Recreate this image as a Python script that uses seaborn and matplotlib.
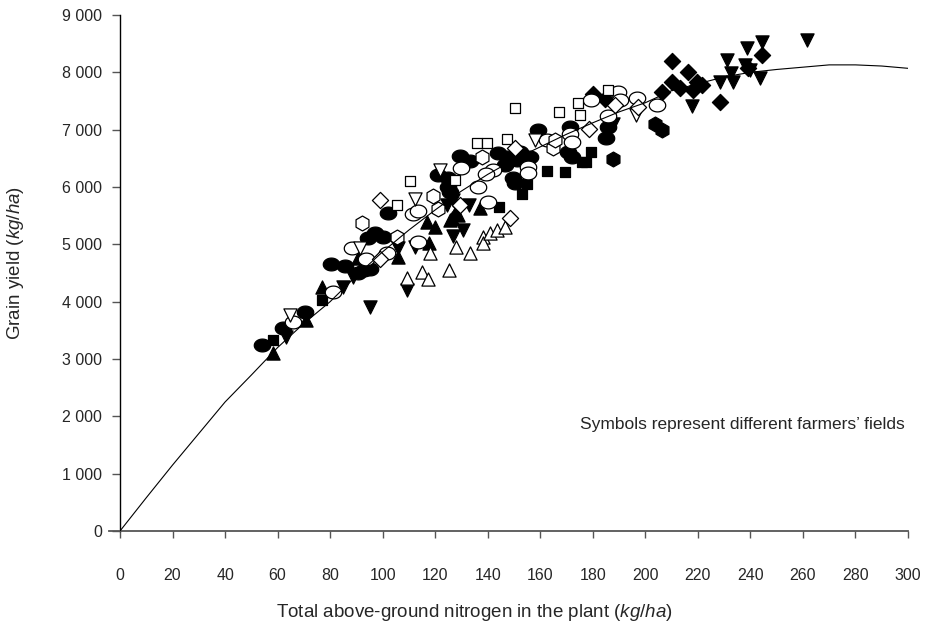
import numpy as np
import pandas as pd
import matplotlib
matplotlib.use("Agg")
import matplotlib.pyplot as plt
from matplotlib.path import Path
from matplotlib.ticker import FuncFormatter, MultipleLocator
import seaborn as sns

# ---------------- data ----------------
curve_x = [0, 10, 20, 30, 40, 50, 60, 70, 80, 90, 100, 110, 120, 130, 140, 150,
           160, 170, 180, 190, 200, 210, 220, 230, 240, 250, 260, 270, 280, 290, 300]
curve_y = [0, 580, 1150, 1700, 2250, 2720, 3200, 3620, 4000, 4450, 4870, 5250, 5600,
           5930, 6220, 6480, 6700, 6920, 7120, 7310, 7470, 7680, 7800, 7920, 8000,
           8050, 8090, 8130, 8130, 8110, 8070]

filled_circle_x = [53.9, 62.2, 70.4, 80.5, 85.6, 90.5, 92.8, 95.2, 94.5, 97, 100, 102,
                   121.2, 125, 125, 125.6, 129.4, 133.2, 144, 147.2, 146.6, 152.3, 156,
                   151, 149.7, 150.4, 159, 171.3, 170.7, 172, 185.9, 185.2]
filled_circle_y = [3245, 3536, 3825, 4650, 4620, 4500, 4550, 4570, 5110, 5190, 5130, 5541,
                   6210, 6152, 6006, 5919, 6540, 6460, 6588, 6515, 6384, 6610, 6520,
                   6471, 6152, 6064, 6990, 7040, 6617, 6529, 7053, 6850]

filled_square_x = [58.4, 76.8, 152.9, 154.8, 144.4, 162.4, 169.4, 175.7, 177.5, 179.5]
filled_square_y = [3332, 4030, 5878, 6050, 5650, 6280, 6268, 6442, 6430, 6617]

filled_tri_up_x = [58.4, 71, 76.8, 90.7, 106, 116.7, 119.9, 117.7, 126.3, 127.5, 137,
                   125.6, 128.8]
filled_tri_up_y = [3100, 3680, 4262, 4770, 4785, 5396, 5309, 5018, 5454, 5541, 5629,
                   5425, 5512]

filled_tri_down_x = [63.2, 85, 88.8, 95.2, 106, 109.1, 112.3, 126.6, 126.9, 130.7, 133,
                     124.4, 187.8, 217.6, 231, 238.6, 244.3, 261.4, 232.8, 228.4, 237.9,
                     239.8, 243.6, 233.5]
filled_tri_down_y = [3390, 4262, 4437, 3913, 4931, 4204, 4960, 5140, 5774, 5251, 5690,
                     5687, 7100, 7420, 8216, 8420, 8535, 8565, 7983, 7837, 8128,
                     8041, 7896, 7837]

filled_diamond_x = [180.2, 184.6, 210, 216.3, 219.5, 210, 213.2, 218.2, 206.2, 228.4,
                    239.2, 244.3, 221.4]
filled_diamond_y = [7620, 7540, 8200, 8011, 7837, 7837, 7721, 7692, 7663, 7480,
                    8070, 8303, 7780]

filled_hex_x = [203.7, 206.2, 187.5]
filled_hex_y = [7100, 6995, 6480]

open_circle_x = [66, 81.2, 88.2, 93.6, 101.5, 113.6, 111.5, 113.5, 130, 142, 139.5,
                 136.4, 140.2, 155.4, 155.4, 162.4, 171.5, 172, 185.9, 189.7, 190.3,
                 196.7, 204.3, 179.5]
open_circle_y = [3650, 4175, 4931, 4740, 4844, 5040, 5530, 5580, 6326, 6297, 6220,
                 6006, 5745, 6355, 6250, 6820, 6930, 6791, 7239, 7663, 7518,
                 7547, 7430, 7520]

open_square_x = [105.3, 110.4, 127.5, 136, 139.6, 147.2, 150.4, 167, 174.5, 175.1, 185.9]
open_square_y = [5680, 6110, 6122, 6762, 6762, 6832, 7370, 7313, 7460, 7256, 7700]

open_tri_up_x = [109.1, 114.8, 117.4, 118, 125.3, 127.8, 133.2, 138.3, 138.3, 140.8,
                 143.4, 146.6]
open_tri_up_y = [4420, 4524, 4400, 4850, 4553, 4960, 4844, 5135, 5018, 5193,
                 5251, 5309]

open_tri_down_x = [64.7, 91.4, 112.3, 121.8, 158, 196.4]
open_tri_down_y = [3767, 4931, 5786, 6297, 6820, 7256]

open_diamond_x = [99, 99, 129.4, 148.5, 150.4, 178.7, 188.4, 197.3]
open_diamond_y = [5774, 4750, 5687, 5454, 6675, 7006, 7430, 7400]

open_hex_x = [92, 105.3, 119.2, 121.2, 137.7, 165, 165.6]
open_hex_y = [5367, 5135, 5850, 5611, 6529, 6675, 6820]

note_text = "Symbols represent different farmers\u2019 fields"

# ---------------- style ----------------
sns.set_theme(style="white")
plt.rcParams["font.family"] = ["Liberation Sans", "DejaVu Sans"]
plt.rcParams["mathtext.fontset"] = "custom"
plt.rcParams["mathtext.rm"] = "Liberation Sans"
plt.rcParams["mathtext.it"] = "Liberation Sans:italic"

fig = plt.figure(figsize=(9.32, 6.27), dpi=100)
ax = fig.add_axes([120 / 932, 96 / 627, 788 / 932, 516 / 627])

# ellipse marker (wider than tall)
t = np.linspace(0, 2 * np.pi, 60)
ellipse = Path(np.column_stack([np.cos(t), 0.78 * np.sin(t)]), closed=True)

groups = [
    (filled_circle_x, filled_circle_y, ellipse, "black", 140),
    (filled_square_x, filled_square_y, "s", "black", 58),
    (filled_tri_up_x, filled_tri_up_y, "^", "black", 90),
    (filled_tri_down_x, filled_tri_down_y, "v", "black", 90),
    (filled_diamond_x, filled_diamond_y, "D", "black", 68),
    (filled_hex_x, filled_hex_y, "h", "black", 115),
    (open_circle_x, open_circle_y, ellipse, "white", 140),
    (open_square_x, open_square_y, "s", "white", 58),
    (open_tri_up_x, open_tri_up_y, "^", "white", 90),
    (open_tri_down_x, open_tri_down_y, "v", "white", 90),
    (open_diamond_x, open_diamond_y, "D", "white", 68),
    (open_hex_x, open_hex_y, "h", "white", 115),
]

for gx, gy, mk, fc, size in groups:
    df = pd.DataFrame({"x": gx, "y": gy})
    sns.scatterplot(data=df, x="x", y="y", marker=mk, s=size, color=fc,
                    edgecolor="black", linewidth=0.9, ax=ax, zorder=2, legend=False)

curve_df = pd.DataFrame({"x": curve_x, "y": curve_y})
sns.lineplot(data=curve_df, x="x", y="y", color="black", linewidth=0.8, ax=ax,
             zorder=3, legend=False)

ax.set_xlim(0, 300)
ax.set_ylim(0, 9000)
ax.xaxis.set_major_locator(MultipleLocator(20))
ax.yaxis.set_major_locator(MultipleLocator(1000))
ax.yaxis.set_major_formatter(FuncFormatter(lambda v, p: f"{int(v):,}".replace(",", " ")))

for side in ["top", "right"]:
    ax.spines[side].set_visible(False)
ax.spines["left"].set_color("black")
ax.spines["left"].set_linewidth(1.0)
ax.spines["bottom"].set_color("#555555")
ax.spines["bottom"].set_linewidth(1.3)
ax.spines["bottom"].set_bounds(-4, 300)

ax.tick_params(axis="y", direction="out", length=6, width=1, color="#555555",
               pad=7, labelsize=11.5, left=True)
ax.tick_params(axis="x", direction="out", length=5, width=1, color="#555555",
               pad=22, labelsize=11.5, bottom=True)

ax.set_xlabel(r"Total above-ground nitrogen in the plant ($\mathit{kg/ha}$)",
              fontsize=13.5)
ax.xaxis.set_label_coords(0.45, -0.138)
ax.set_ylabel(r"Grain yield ($\mathit{kg/ha}$)", fontsize=13.5)
ax.yaxis.set_label_coords(-0.119, 0.519)

ax.text(237, 1850, note_text, fontsize=12.5, ha="center", va="center")

fig.savefig("out.png", dpi=100)
